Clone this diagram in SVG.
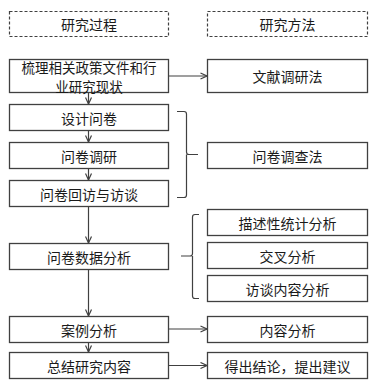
<svg xmlns="http://www.w3.org/2000/svg" width="379" height="388" viewBox="0 0 379 388">
<defs>
<style>
.box{fill:#fff;stroke:#404040;stroke-width:1.3}
.dash{fill:#fff;stroke:#404040;stroke-width:1.2;stroke-dasharray:3 2}
.t{font-family:"Noto Sans CJK SC","Liberation Sans",sans-serif;font-size:14px;fill:#1a1a1a;text-anchor:middle;dominant-baseline:central}
.ln{fill:none;stroke:#404040;stroke-width:1.2}
</style>
<marker id="ah" viewBox="0 0 8 8" refX="7.5" refY="4" markerWidth="8" markerHeight="8" markerUnits="userSpaceOnUse" orient="auto">
<path d="M1,1 L7.5,4 L1,7" fill="none" stroke="#404040" stroke-width="1.2"/>
</marker>
</defs>
<rect width="379" height="388" fill="#fff"/>
<g id="h1"><rect class="dash" x="9.5" y="11.5" width="159" height="25"/><text class="t" x="89" y="24">研究过程</text></g>
<g id="h2"><rect class="dash" x="207.5" y="11.5" width="160" height="25"/><text class="t" x="287.5" y="24">研究方法</text></g>
<g id="n1"><rect class="box" x="9.5" y="59.5" width="159" height="33"/><text class="t" x="89" y="67" style="font-size:13.5px">梳理相关政策文件和行</text><text class="t" x="89" y="85.5" style="font-size:13.5px">业研究现状</text></g>
<g id="m1"><rect class="box" x="207.5" y="59.5" width="160" height="33"/><text class="t" x="287.5" y="76">文献调研法</text></g>
<g id="n2"><rect class="box" x="9.5" y="104.5" width="159" height="26"/><text class="t" x="89" y="117.5">设计问卷</text></g>
<g id="n3"><rect class="box" x="9.5" y="142.5" width="159" height="26"/><text class="t" x="89" y="155.5">问卷调研</text></g>
<g id="n4"><rect class="box" x="9.5" y="180.5" width="159" height="26"/><text class="t" x="89" y="193.5">问卷回访与访谈</text></g>
<g id="m2"><rect class="box" x="207.5" y="142.5" width="160" height="26"/><text class="t" x="287.5" y="155.5">问卷调查法</text></g>
<g id="n5"><rect class="box" x="9.5" y="243.5" width="159" height="26"/><text class="t" x="89" y="256.5">问卷数据分析</text></g>
<g id="m3"><rect class="box" x="207.5" y="209.5" width="160" height="26"/><text class="t" x="287.5" y="222.5">描述性统计分析</text></g>
<g id="m4"><rect class="box" x="207.5" y="242.5" width="160" height="26"/><text class="t" x="287.5" y="255.5">交叉分析</text></g>
<g id="m5"><rect class="box" x="207.5" y="275.5" width="160" height="26"/><text class="t" x="287.5" y="288.5">访谈内容分析</text></g>
<g id="n6"><rect class="box" x="9.5" y="316.5" width="159" height="26"/><text class="t" x="89" y="329.5">案例分析</text></g>
<g id="m6"><rect class="box" x="207.5" y="316.5" width="160" height="26"/><text class="t" x="287.5" y="329.5">内容分析</text></g>
<g id="n7"><rect class="box" x="9.5" y="352.5" width="159" height="26"/><text class="t" x="89" y="365.5">总结研究内容</text></g>
<g id="m7"><rect class="box" x="207.5" y="352.5" width="160" height="26"/><text class="t" x="287.5" y="365.5">得出结论，提出建议</text></g>
<g id="connectors">
<line class="ln" x1="168.5" y1="76" x2="207" y2="76" marker-end="url(#ah)"/>
<line class="ln" x1="88.5" y1="92.5" x2="88.5" y2="104" marker-end="url(#ah)"/>
<line class="ln" x1="88.5" y1="130.5" x2="88.5" y2="142" marker-end="url(#ah)"/>
<line class="ln" x1="88.5" y1="168.5" x2="88.5" y2="180" marker-end="url(#ah)"/>
<line class="ln" x1="88.5" y1="206.5" x2="88.5" y2="243" marker-end="url(#ah)"/>
<line class="ln" x1="88.5" y1="269.5" x2="88.5" y2="316" marker-end="url(#ah)"/>
<line class="ln" x1="88.5" y1="342.5" x2="88.5" y2="352" marker-end="url(#ah)"/>
<line class="ln" x1="168.5" y1="329" x2="207" y2="329" marker-end="url(#ah)"/>
<line class="ln" x1="168.5" y1="365.5" x2="207" y2="365.5" marker-end="url(#ah)"/>
<path class="ln" d="M177,111.5 H184 Q186.5,111.5 186.5,114 V152 Q186.5,154.5 189,154.5 H198 M186.5,154.5 V195 Q186.5,197.5 184,197.5 H177"/>
<path class="ln" d="M199,214.5 H195 Q192.5,214.5 192.5,217 V253.5 Q192.5,256 190,256 H181 M192.5,256 V296 Q192.5,298.5 195,298.5 H199"/>
</g>
</svg>
